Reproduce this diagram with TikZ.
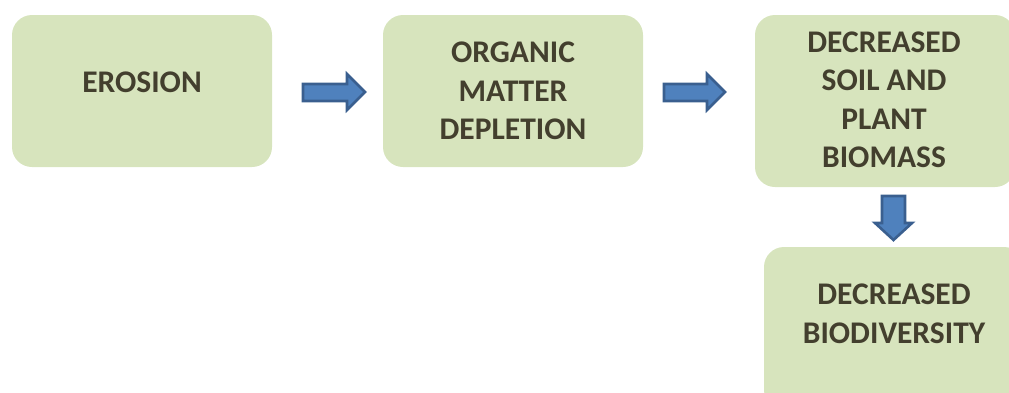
\documentclass[tikz,border=0pt]{standalone}
\usepackage{fontspec}
\setmainfont{Carlito}
\usetikzlibrary{calc}
\definecolor{boxfill}{HTML}{D7E4BD}
\definecolor{boxtext}{HTML}{433F2E}
\definecolor{arrfill}{HTML}{4F81BD}
\definecolor{arrline}{HTML}{3A5F8F}
\tikzset{
  box/.style={fill=boxfill, draw=none, rounded corners=20pt},
  lbl/.style={text=boxtext, font=\fontsize{31.5}{38.5}\selectfont\bfseries, align=center, inner sep=0pt},
  blockarrow/.style={fill=arrfill, draw=arrline, line width=2.6pt, line join=miter}
}
\begin{document}
\begin{tikzpicture}[x=1pt,y=-1pt]
\useasboundingbox (0,0) rectangle (1009,392);
\clip (0,0) rectangle (1009,392);
% boxes
\fill[box] (12,15) rectangle (272,167);
\fill[box] (383,15) rectangle (643,167);
\fill[box] (755,15) rectangle (1015,187);
\fill[box] (764,247) rectangle (1024,410);
% labels
\node[lbl] (erosion) at (142,82) {EROSION};
\node[lbl] (organic) at (513,91) {ORGANIC\\MATTER\\DEPLETION};
\node[lbl] (biomass) at (884,100) {DECREASED\\SOIL AND\\PLANT\\BIOMASS};
\node[lbl] (biodiv) at (894,314) {DECREASED\\BIODIVERSITY};
% block arrows
\draw[blockarrow] (303,84) -- (347,84) -- (347,74) -- (365,92) -- (347,110) -- (347,101) -- (303,101) -- cycle;
\draw[blockarrow] (664,84) -- (707,84) -- (707,74) -- (725,92) -- (707,110) -- (707,101) -- (664,101) -- cycle;
\draw[blockarrow] (882,196) -- (905,196) -- (905,223) -- (912,223) -- (893.5,240) -- (875,223) -- (882,223) -- cycle;
\end{tikzpicture}
\end{document}
